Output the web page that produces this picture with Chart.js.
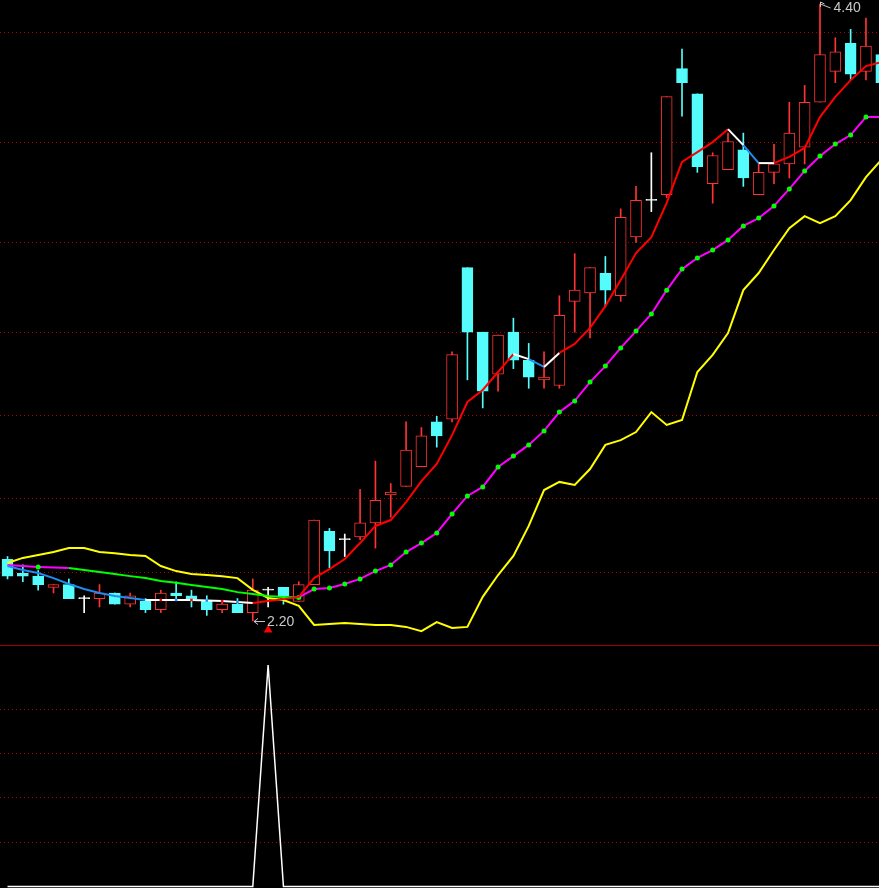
<!DOCTYPE html>
<html>
<head>
<meta charset="utf-8">
<script src="https://cdn.jsdelivr.net/npm/chart.js@4.4.0/dist/chart.umd.min.js"></script>
<style>
  html, body { margin: 0; padding: 0; background: #000; overflow: hidden; }
  canvas { display: block; }
  #lower { border-top: 1px solid #a00000; }
</style>
</head>
<body>
<div><canvas id="priceChart" width="879" height="645"></canvas></div>
<div id="lower"><canvas id="signalChart" width="879" height="242"></canvas></div>
<script>
// daily candles
let opens = [2.42, 2.37, 2.36, 2.32, 2.33, 2.28, 2.28, 2.30, 2.26, 2.27,
             2.24, 2.30, 2.29, 2.27, 2.24, 2.26, 2.23, 2.31, 2.32, 2.27,
             2.33, 2.52, 2.49, 2.50, 2.55, 2.65, 2.68, 2.75, 2.91, 2.92,
             3.46, 3.23, 3.08, 3.23, 3.13, 3.06, 3.04, 3.34, 3.37, 3.44,
             3.36, 3.57, 3.70, 3.72, 4.17, 4.08, 3.76, 3.81, 3.88, 3.72,
             3.80, 3.83, 3.89, 4.05, 4.16, 4.26, 4.16, 4.22];
let highs = [2.43, 2.40, 2.38, 2.33, 2.35, 2.29, 2.33, 2.30, 2.30, 2.28,
             2.31, 2.34, 2.31, 2.29, 2.27, 2.28, 2.35, 2.32, 2.32, 2.34,
             2.56, 2.53, 2.51, 2.67, 2.77, 2.69, 2.91, 2.89, 2.93, 3.16,
             3.46, 3.23, 3.22, 3.28, 3.19, 3.16, 3.36, 3.51, 3.46, 3.50,
             3.67, 3.75, 3.87, 4.07, 4.24, 4.08, 3.87, 3.94, 3.94, 3.83,
             3.90, 4.05, 4.11, 4.40, 4.28, 4.31, 4.35, 4.25];
let lows = [2.35, 2.34, 2.31, 2.30, 2.28, 2.23, 2.25, 2.26, 2.25, 2.23,
            2.23, 2.28, 2.25, 2.22, 2.23, 2.23, 2.20, 2.25, 2.26, 2.27,
            2.33, 2.39, 2.43, 2.49, 2.46, 2.57, 2.68, 2.75, 2.82, 2.91,
            3.06, 2.96, 3.02, 3.10, 3.03, 3.03, 3.03, 3.23, 3.21, 3.32,
            3.34, 3.55, 3.66, 3.71, 4.00, 3.80, 3.69, 3.81, 3.75, 3.72,
            3.76, 3.78, 3.83, 4.05, 4.12, 4.13, 4.13, 4.09];
let closes = [2.36, 2.36, 2.33, 2.33, 2.28, 2.28, 2.30, 2.26, 2.29, 2.24,
              2.30, 2.29, 2.28, 2.24, 2.26, 2.23, 2.31, 2.31, 2.29, 2.33,
              2.56, 2.45, 2.49, 2.55, 2.63, 2.66, 2.81, 2.86, 2.86, 3.15,
              3.23, 3.02, 3.22, 3.13, 3.07, 3.07, 3.29, 3.38, 3.46, 3.38,
              3.64, 3.70, 3.70, 4.07, 4.12, 3.82, 3.86, 3.91, 3.78, 3.80,
              3.83, 3.94, 4.05, 4.22, 4.23, 4.15, 4.25, 4.12];

// indicator lines
let maShort = [2.396, 2.382, 2.371, 2.353, 2.332, 2.314, 2.300, 2.289, 2.282, 2.275,
               2.275, 2.275, 2.275, 2.273, 2.271, 2.268, 2.264, 2.271, 2.278, 2.286,
               2.353, 2.385, 2.421, 2.478, 2.539, 2.560, 2.624, 2.699, 2.760, 2.863,
               2.981, 3.024, 3.088, 3.152, 3.134, 3.106, 3.156, 3.188, 3.245, 3.323,
               3.416, 3.512, 3.569, 3.691, 3.837, 3.872, 3.908, 3.954, 3.897, 3.833,
               3.833, 3.855, 3.887, 3.997, 4.069, 4.129, 4.179, 4.193];
let maMid = [2.400, 2.396, 2.393, 2.391, 2.389, 2.382, 2.375, 2.368, 2.360, 2.353,
             2.343, 2.336, 2.328, 2.321, 2.314, 2.303, 2.296, 2.289, 2.286, 2.284,
             2.314, 2.318, 2.332, 2.350, 2.378, 2.400, 2.446, 2.478, 2.514, 2.582,
             2.646, 2.678, 2.749, 2.788, 2.828, 2.878, 2.945, 2.985, 3.052, 3.109,
             3.174, 3.234, 3.295, 3.380, 3.455, 3.495, 3.523, 3.559, 3.609, 3.637,
             3.680, 3.741, 3.805, 3.858, 3.901, 3.933, 3.997, 3.997];
let bandLow = [2.407, 2.425, 2.435, 2.446, 2.460, 2.460, 2.446, 2.442, 2.435, 2.432,
               2.396, 2.378, 2.368, 2.364, 2.360, 2.353, 2.311, 2.282, 2.275, 2.254,
               2.186, 2.189, 2.193, 2.189, 2.186, 2.186, 2.179, 2.164, 2.196, 2.175,
               2.179, 2.286, 2.364, 2.432, 2.539, 2.667, 2.696, 2.685, 2.742, 2.828,
               2.845, 2.874, 2.945, 2.899, 2.917, 3.088, 3.149, 3.227, 3.380, 3.441,
               3.523, 3.601, 3.644, 3.619, 3.644, 3.701, 3.783, 3.844];

// buy signal (lower panel)
let signal = [0, 0, 0, 0, 0, 0, 0, 0, 0, 0,
              0, 0, 0, 0, 0, 0, 0, 1, 0, 0,
              0, 0, 0, 0, 0, 0, 0, 0, 0, 0,
              0, 0, 0, 0, 0, 0, 0, 0, 0, 0,
              0, 0, 0, 0, 0, 0, 0, 0, 0, 0,
              0, 0, 0, 0, 0, 0, 0, 0];

let gridPrices = [2.374, 2.638, 2.934, 3.230, 3.550, 3.907, 4.299];
let gridSignal = [0.2, 0.4, 0.6, 0.8];
let markPrice = 2.168;

const UP = '#ff3333', DOWN = '#54fcfc', FLAT = '#ffffff';
const RED = '#ff0000', BLUE = '#1e8cf0', WHITE = '#ffffff';
const MAGENTA = '#ff00ff', GREEN = '#00ff00', YELLOW = '#ffff00';
const GRID = '#b00000';

function paint(n, base, spans) {
  const out = new Array(n).fill(base);
  spans.forEach(([from, to, c]) => { for (let i = from; i <= to; i++) out[i] = c; });
  return out;
}

const n = opens.length;
const idx = opens.map((_, i) => i);
const candleColor = idx.map(i => closes[i] > opens[i] ? UP : (closes[i] < opens[i] ? DOWN : FLAT));
const shortColors = paint(n, RED, [[0, 8, BLUE], [9, 15, WHITE], [33, 33, WHITE], [34, 34, BLUE],
                                   [35, 35, WHITE], [47, 47, WHITE], [48, 48, BLUE], [49, 49, WHITE]]);
const midColors = paint(n, MAGENTA, [[4, 18, GREEN]]);

const xRange = { type: 'linear', min: -0.49, max: 56.85, display: false, offset: false, grid: { offset: false } };

const extremeLabels = {
  id: 'extremeLabels',
  afterDatasetsDraw(chart) {
    const { ctx, scales: { x, y } } = chart;
    const lo = lows.indexOf(Math.min(...lows));
    const hi = highs.indexOf(Math.max(...highs));
    ctx.save();
    ctx.strokeStyle = '#c8c8c8';
    ctx.fillStyle = '#c8c8c8';
    ctx.lineWidth = 1;
    ctx.font = '14px "Liberation Sans Narrow", "Arial Narrow", "Liberation Sans", Arial, sans-serif';
    ctx.textBaseline = 'middle';

    let px = Math.round(x.getPixelForValue(lo)), py = Math.round(y.getPixelForValue(lows[lo])) + 0.5;
    ctx.beginPath();
    ctx.moveTo(px + 1, py); ctx.lineTo(px + 12, py);
    ctx.moveTo(px + 1, py); ctx.lineTo(px + 5, py - 3);
    ctx.moveTo(px + 1, py); ctx.lineTo(px + 5, py + 3);
    ctx.stroke();
    ctx.fillText(lows[lo].toFixed(2), px + 14, py + 1);

    px = Math.round(x.getPixelForValue(hi)) + 0.5; py = Math.round(y.getPixelForValue(highs[hi]));
    ctx.beginPath();
    ctx.moveTo(px, py - 2); ctx.lineTo(px, py + 3);
    ctx.moveTo(px, py - 2); ctx.lineTo(px + 4, py);
    ctx.moveTo(px, py); ctx.lineTo(px + 10, py + 4);
    ctx.stroke();
    ctx.fillText(highs[hi].toFixed(2), px + 13, py + 4);
    ctx.restore();
  }
};

new Chart(document.getElementById('priceChart'), {
  type: 'bar',
  data: {
    datasets: [
      {
        type: 'line',
        data: idx.map(i => ({ x: i, y: maShort[i] })),
        borderWidth: 2,
        borderColor: RED,
        segment: { borderColor: ctx => shortColors[ctx.p0DataIndex] },
        pointStyle: 'rect',
        pointRadius: ctx => (ctx.dataIndex >= 10 && ctx.dataIndex <= 15) ? 1.8 : 0,
        pointBackgroundColor: ctx => ctx.dataIndex % 2 ? BLUE : RED,
        pointBorderWidth: 0,
        tension: 0,
        order: 1
      },
      {
        type: 'line',
        data: idx.map(i => ({ x: i, y: maMid[i] })),
        borderWidth: 2,
        borderColor: MAGENTA,
        segment: { borderColor: ctx => midColors[ctx.p0DataIndex] },
        pointRadius: ctx => (ctx.dataIndex === 2 || ctx.dataIndex >= 19) ? 2.5 : 0,
        pointBackgroundColor: GREEN,
        pointBorderWidth: 0,
        tension: 0,
        order: 2
      },
      {
        type: 'line',
        data: idx.map(i => ({ x: i, y: bandLow[i] })),
        borderWidth: 2,
        borderColor: YELLOW,
        pointRadius: 0,
        tension: 0,
        order: 3
      },
      {
        type: 'line',
        data: idx.filter(i => signal[i] > 0).map(i => ({ x: i, y: markPrice })),
        showLine: false,
        pointStyle: 'triangle',
        pointRadius: 5,
        pointBackgroundColor: RED,
        pointBorderColor: RED,
        pointBorderWidth: 0,
        order: 0
      },
      {
        data: idx.map(i => ({ x: i, y: [opens[i], closes[i]] })),
        backgroundColor: idx.map(i => candleColor[i] === UP ? '#000000' : candleColor[i]),
        borderColor: candleColor,
        borderWidth: 1,
        borderSkipped: false,
        barThickness: 11,
        minBarLength: 1,
        grouped: false,
        order: 5
      },
      {
        data: idx.map(i => ({ x: i, y: [lows[i], highs[i]] })),
        backgroundColor: candleColor,
        borderWidth: 0,
        barThickness: 1,
        grouped: false,
        order: 6
      }
    ]
  },
  options: {
    responsive: false,
    animation: false,
    events: [],
    layout: { padding: 0, autoPadding: false },
    plugins: { legend: { display: false }, tooltip: { enabled: false } },
    scales: {
      x: xRange,
      y: {
        type: 'linear',
        min: 2.1144,
        max: 4.4147,
        beginAtZero: false,
        afterBuildTicks: axis => { axis.ticks = gridPrices.map(v => ({ value: v })); },
        ticks: { display: false },
        grid: { color: GRID, lineWidth: 1, drawTicks: false },
        border: { display: false, dash: [1, 3] }
      }
    }
  },
  plugins: [extremeLabels]
});

new Chart(document.getElementById('signalChart'), {
  type: 'line',
  data: {
    datasets: [{
      data: idx.map(i => ({ x: i, y: signal[i] })),
      borderColor: WHITE,
      borderWidth: 1.5,
      pointRadius: 0,
      tension: 0
    }]
  },
  options: {
    responsive: false,
    animation: false,
    events: [],
    layout: { padding: 0, autoPadding: false },
    plugins: { legend: { display: false }, tooltip: { enabled: false } },
    scales: {
      x: xRange,
      y: {
        type: 'linear',
        min: -0.0068,
        max: 1.0858,
        afterBuildTicks: axis => { axis.ticks = gridSignal.map(v => ({ value: v })); },
        ticks: { display: false },
        grid: { color: GRID, lineWidth: 1, drawTicks: false },
        border: { display: false, dash: [1, 3] }
      }
    }
  }
});
</script>
</body>
</html>
